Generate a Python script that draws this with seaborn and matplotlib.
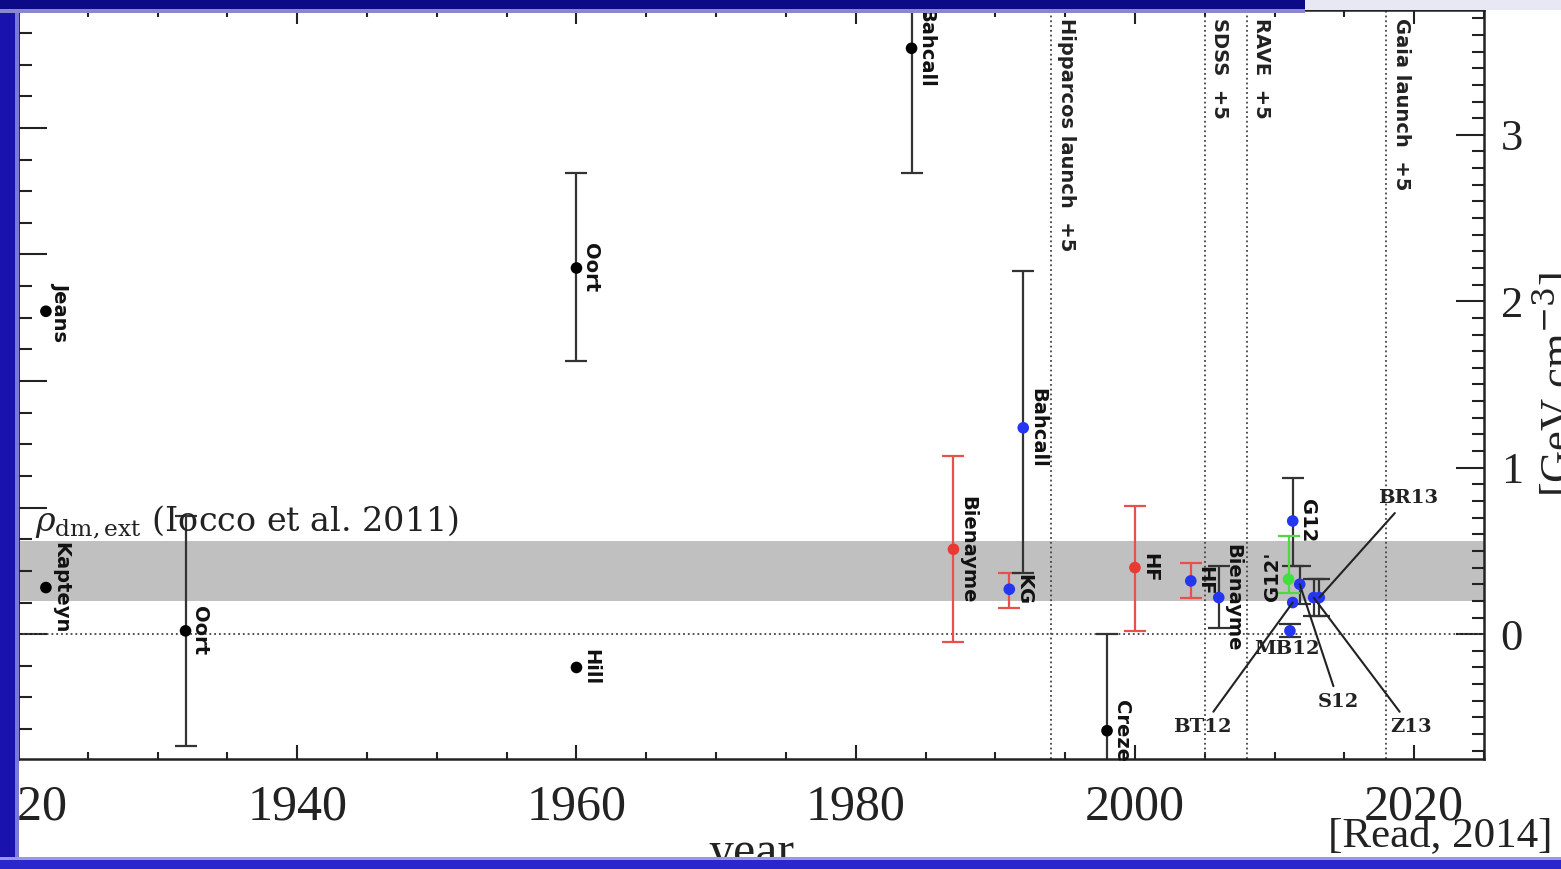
import numpy as np
import pandas as pd
import matplotlib
matplotlib.use('Agg')
import matplotlib.pyplot as plt
from matplotlib.patches import Rectangle
from matplotlib.ticker import MultipleLocator
import seaborn as sns

# 1 GeV cm^-3 in Msun pc^-3 (left axis units)
GEV_TO_MSUN = 0.0263

# historical measurements, black (GeV cm^-3)
black_names = ['Kapteyn', 'Jeans', 'Oort', 'Oort', 'Hill', 'Bahcall', 'Creze']
black_years = [1922, 1922, 1932, 1960, 1960, 1984, 1998]
black_rho = [0.28, 1.94, 0.02, 2.20, -0.20, 3.52, -0.58]
black_err_lo = [0, 0, 0.69, 0.56, 0, 0.75, 0.58]
black_err_hi = [0, 0, 0.69, 0.57, 0, 0.75, 0.58]

# red points with red error bars
red_names = ['Bienayme', 'HF']
red_years = [1987, 2000]
red_rho = [0.51, 0.40]
red_err_lo = [0.56, 0.38]
red_err_hi = [0.56, 0.37]

# blue points with red error bars
bluered_names = ['KG', 'HF']
bluered_years = [1991, 2004]
bluered_rho = [0.27, 0.32]
bluered_err_lo = [0.11, 0.10]
bluered_err_hi = [0.10, 0.11]

# blue points with black error bars
blue_names = ['Bahcall', 'Bienayme', 'G12', 'S12', 'MB12', 'BT12', 'Z13', 'BR13']
blue_years = [1992, 2006, 2011.3, 2011.8, 2011.1, 2011.3, 2012.8, 2013.2]
blue_rho = [1.24, 0.22, 0.68, 0.30, 0.02, 0.19, 0.22, 0.22]
blue_err_lo = [0.87, 0.18, 0.27, 0.12, 0.04, 0.0, 0.11, 0.11]
blue_err_hi = [0.94, 0.19, 0.26, 0.11, 0.04, 0.0, 0.11, 0.11]
blue_rotated = ['Bahcall', 'Bienayme', 'G12']

# green point
green_names = ["G12'"]
green_years = [2011.0]
green_rho = [0.33]
green_err_lo = [0.08]
green_err_hi = [0.26]

# labels joined to their points by a line
lead_names = ['BT12', 'S12', 'Z13', 'BR13']
lead_text_x = [2004.8, 2014.6, 2019.8, 2019.6]
lead_text_y = [-0.56, -0.41, -0.56, 0.82]

# survey lines
event_names = ['Hipparcos launch  +5', 'SDSS  +5', 'RAVE  +5', 'Gaia launch  +5']
event_years = [1994, 2005, 2008, 2018]

# Iocco et al. 2011 band
iocco_lo, iocco_hi = 0.20, 0.56

sns.set_theme(style='ticks')
plt.rcParams['font.family'] = ['DejaVu Sans']
plt.rcParams['mathtext.fontset'] = 'dejavuserif'

fig = plt.figure(figsize=(15.61, 8.69), dpi=100)
ax = fig.add_axes([18 / 1561, 110 / 869, 1466 / 1561, 749 / 869])

ax.axhspan(iocco_lo, iocco_hi, color='#c0c0c0', lw=0, zorder=0)
ax.axhline(0, color='#444444', ls=':', lw=1.3, zorder=1)
for yr, name in zip(event_years, event_names):
    ax.axvline(yr, color='#444444', ls=':', lw=1.3, zorder=1)
    ax.text(yr + 0.4, 3.70, name, rotation=-90, ha='left', va='top',
            fontsize=14, fontweight='bold', color='#222222')

def draw_group(names, years, rho, lo, hi, pcolor, ecolor):
    df = pd.DataFrame({'name': names, 'year': years, 'rho': rho, 'lo': lo, 'hi': hi})
    has_err = df[(df['lo'] > 0) | (df['hi'] > 0)]
    ax.errorbar(has_err['year'], has_err['rho'], yerr=[has_err['lo'], has_err['hi']],
                fmt='none', ecolor=ecolor, elinewidth=1.6, capsize=8, capthick=1.6, zorder=2)
    sns.scatterplot(data=df, x='year', y='rho', color=pcolor, s=70,
                    edgecolor='none', ax=ax, zorder=3, legend=False)
    return df

lab_kw = dict(rotation=-90, ha='left', va='center', fontsize=14, fontweight='bold', color='#111111')

df_black = draw_group(black_names, black_years, black_rho, black_err_lo, black_err_hi, 'black', '#333333')
for _, r in df_black.iterrows():
    ax.text(r['year'] + 0.35, r['rho'], r['name'], **lab_kw)

df_red = draw_group(red_names, red_years, red_rho, red_err_lo, red_err_hi, '#e83a30', '#e8504a')
for _, r in df_red.iterrows():
    ax.text(r['year'] + 0.35, r['rho'], r['name'], **lab_kw)

df_br = draw_group(bluered_names, bluered_years, bluered_rho, bluered_err_lo, bluered_err_hi, '#2436f0', '#e8504a')
for _, r in df_br.iterrows():
    ax.text(r['year'] + 0.35, r['rho'], r['name'], **lab_kw)

df_blue = draw_group(blue_names, blue_years, blue_rho, blue_err_lo, blue_err_hi, '#2436f0', '#333333')
for _, r in df_blue.iterrows():
    if r['name'] in blue_rotated:
        ax.text(r['year'] + 0.35, r['rho'], r['name'], **lab_kw)

df_green = draw_group(green_names, green_years, green_rho, green_err_lo, green_err_hi, '#3fe03a', '#50d840')
for _, r in df_green.iterrows():
    ax.text(r['year'] - 0.45, r['rho'] + 0.02, r['name'], rotation=90, ha='right', va='center',
            fontsize=14, fontweight='bold', color='#111111')

serif_lab = dict(fontsize=14, fontweight='bold', family='DejaVu Serif', color='#222222')
mb = df_blue[df_blue['name'] == 'MB12'].iloc[0]
ax.text(mb['year'] - 0.2, mb['rho'] - 0.11, 'MB12', ha='center', va='center', **serif_lab)
for name, tx, ty in zip(lead_names, lead_text_x, lead_text_y):
    p = df_blue[df_blue['name'] == name].iloc[0]
    ax.annotate(name, xy=(p['year'], p['rho']), xytext=(tx, ty), ha='center', va='center',
                arrowprops=dict(arrowstyle='-', color='#222222', lw=1.5, shrinkA=3, shrinkB=0),
                **serif_lab)

ax.text(1921.2, 0.62, r'$\rho_{\rm dm,ext}$ (Iocco et al. 2011)', fontsize=24,
        family='DejaVu Serif', color='#222222', ha='left', va='baseline')

ax.set_xlim(1920, 2025)
ax.set_ylim(-0.75, 3.75)

# bottom/top axis
ax.xaxis.set_major_locator(MultipleLocator(20))
ax.xaxis.set_minor_locator(MultipleLocator(5))
ax.tick_params(axis='x', which='both', direction='in', top=True, bottom=True,
               labelsize=36, pad=18, width=1.5, colors='#222222')
ax.tick_params(axis='x', which='major', length=10)
ax.tick_params(axis='x', which='minor', length=5)
for t in ax.get_xticklabels():
    t.set_family('Liberation Serif')

# right axis, GeV cm^-3
ax.yaxis.tick_right()
ax.yaxis.set_label_position('right')
ax.yaxis.set_major_locator(MultipleLocator(1))
ax.yaxis.set_minor_locator(MultipleLocator(0.1))
ax.tick_params(axis='y', which='both', direction='in', left=False, right=True,
               labelleft=False, labelright=True, labelsize=32, pad=12, width=1.5, colors='#222222')
ax.tick_params(axis='y', which='major', length=20)
ax.tick_params(axis='y', which='minor', length=9)
for t in ax.get_yticklabels():
    t.set_family('Liberation Serif')
ax.set_ylabel(r'[GeV cm$^{-3}$]', fontsize=32, family='Liberation Serif', labelpad=6,
              rotation=90, color='#222222')
ax.set_xlabel('year', fontsize=36, family='Liberation Serif', labelpad=0, color='#222222')

# left axis, Msun pc^-3 (labels fall outside the crop)
sec = ax.secondary_yaxis('left', functions=(lambda v: v * GEV_TO_MSUN, lambda v: v / GEV_TO_MSUN))
sec.yaxis.set_major_locator(MultipleLocator(0.02))
sec.yaxis.set_minor_locator(MultipleLocator(0.005))
sec.tick_params(axis='y', which='both', direction='in', labelleft=False, width=1.5, colors='#222222')
sec.tick_params(axis='y', which='major', length=21)
sec.tick_params(axis='y', which='minor', length=10)

for s in ax.spines.values():
    s.set_linewidth(1.8)
    s.set_color('#222222')
sec.spines['left'].set_linewidth(1.8)

fig.text(1553 / 1561, 1 - 836 / 869, '[Read, 2014]', fontsize=31, family='Liberation Serif',
         ha='right', va='center', color='#222222')

# slide frame around the screenshot
frame = [(0, 0, 15, 869, '#1a12ac'), (15, 0, 4, 869, '#7a78d8'),
         (0, 0, 1305, 9, '#0c0a86'), (0, 9, 1305, 4, '#8a88cc'),
         (1305, 0, 256, 10, '#e8e8f4'),
         (0, 860, 1561, 9, '#2a28cc'), (0, 857, 1561, 3, '#9a98e4')]
for x0, y0, w, h, c in frame:
    fig.patches.append(Rectangle((x0 / 1561, 1 - (y0 + h) / 869), w / 1561, h / 869,
                                 transform=fig.transFigure, color=c, lw=0, zorder=10))

fig.savefig('out.png', dpi=100)
